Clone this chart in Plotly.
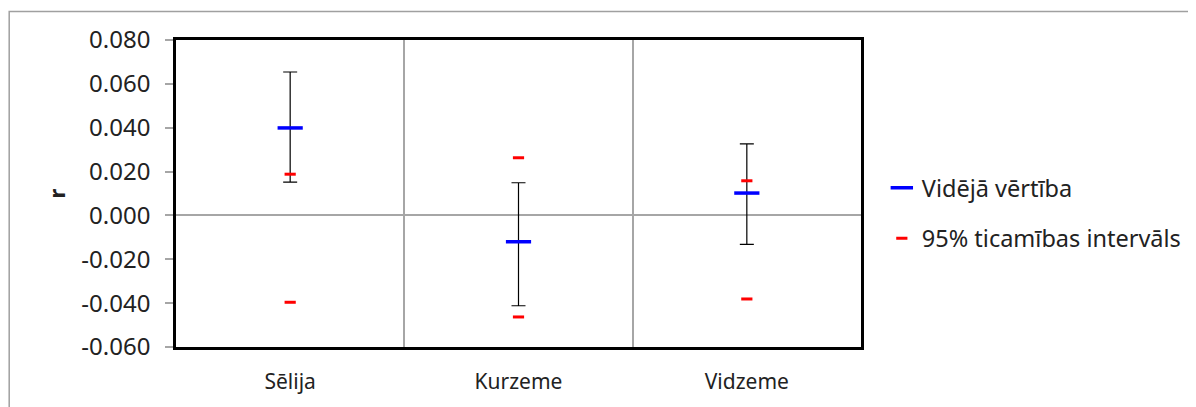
import plotly.graph_objects as go

regions = ["Sēlija", "Kurzeme", "Vidzeme"]
mean_r = [0.0399, -0.0120, 0.0102]
err_high = [0.0654, 0.0149, 0.0326]
err_low = [0.0152, -0.0412, -0.0132]
ci_low = [-0.0396, -0.0463, -0.0381]
ci_high = [0.0188, 0.0263, 0.0158]
y_ticks = [-0.06, -0.04, -0.02, 0.0, 0.02, 0.04, 0.06, 0.08]

font = "Noto Sans"

fig = go.Figure()

fig.add_trace(go.Scatter(
    x=regions, y=mean_r, mode="markers", name="Vidējā vērtība",
    legendgroup="a",
    marker=dict(symbol="line-ew", size=18, color="#0000ff",
                line=dict(color="#0000ff", width=3.5)),
    error_y=dict(type="data", symmetric=False,
                 array=[h - m for h, m in zip(err_high, mean_r)],
                 arrayminus=[m - l for m, l in zip(mean_r, err_low)],
                 color="black", thickness=1.2, width=7),
))

fig.add_trace(go.Scatter(
    x=regions + regions, y=ci_low + ci_high, mode="markers",
    name="95% ticamības intervāls", legendgroup="b",
    marker=dict(symbol="line-ew", size=8, color="#ff0000",
                line=dict(color="#ff0000", width=3)),
))

fig.update_layout(
    width=1196, height=407,
    margin=dict(l=168, r=343, t=32, b=68, autoexpand=False),
    paper_bgcolor="white", plot_bgcolor="white",
    font=dict(family=font, size=20, color="#222222"),
    showlegend=True,
    legend=dict(x=1.0304, y=0.435, xanchor="left", yanchor="middle",
                tracegroupgap=17, font=dict(size=23.5),
                bgcolor="rgba(0,0,0,0)"),
    shapes=[dict(type="rect", xref="paper", yref="paper",
                 x0=-0.2435, x1=1.5, y0=-0.25, y1=1.0925,
                 line=dict(color="#a0a0a0", width=1.5), layer="below")],
)

fig.update_xaxes(
    type="category", range=[-0.5, len(regions) - 0.5],
    tickson="boundaries", showgrid=True,
    gridcolor="#a6a6a6", gridwidth=1.5, ticks="",
    showline=True, linecolor="black", linewidth=2.5, mirror=True,
    ticklabelstandoff=14, tickfont=dict(size=21), automargin=False,
)

fig.update_yaxes(
    range=[-0.06, 0.08], tickvals=y_ticks,
    ticktext=[f"{v:.3f}" for v in y_ticks],
    showgrid=False, zeroline=True, zerolinecolor="#a6a6a6", zerolinewidth=1.5,
    ticks="outside", ticklen=8, tickcolor="#a6a6a6", tickwidth=1.5,
    showline=True, linecolor="black", linewidth=2.5, mirror=True,
    tickfont=dict(size=24), ticklabelstandoff=10, automargin=False,
    title=dict(text="<b>r</b>", standoff=10, font=dict(size=22)),
)

fig.write_html("out.html")
